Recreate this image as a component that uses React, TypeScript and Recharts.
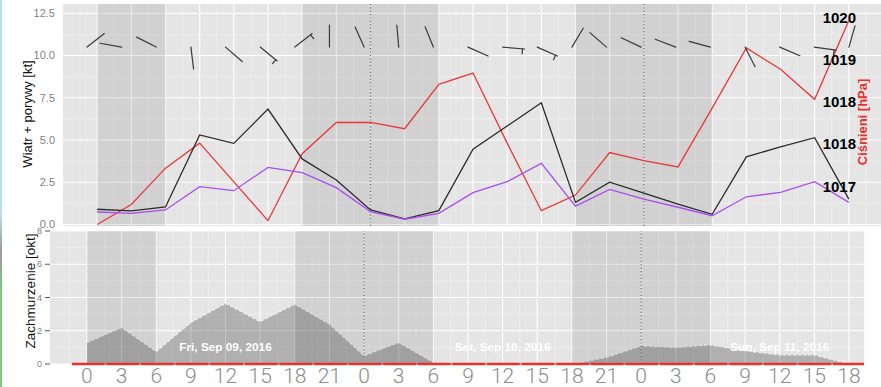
import { ComposedChart, Line, Area, Scatter, XAxis, YAxis, CartesianGrid, ReferenceArea, ReferenceLine } from 'recharts'

// godziny prognozy (co 3h, od pt 00:00)
const hours = [0, 3, 6, 9, 12, 15, 18, 21, 24, 27, 30, 33, 36, 39, 42, 45, 48, 51, 54, 57, 60, 63, 66]

// wiatr [kt]
const gust = [0.9, 0.8, 1.04, 5.3, 4.8, 6.83, 3.88, 2.63, 0.86, 0.33, 0.82, 4.45, 5.83, 7.2, 1.31, 2.5, 1.85, 1.21, 0.6, 4.0, 4.6, 5.14, 1.5]
const wind = [0.74, 0.66, 0.86, 2.24, 2.0, 3.38, 3.07, 2.18, 0.76, 0.31, 0.66, 1.88, 2.53, 3.62, 1.09, 2.08, 1.5, 1.02, 0.52, 1.64, 1.9, 2.53, 1.31]
// kierunek kreski (stopnie, 0 = w gore ekranu)
const windDir = [52, 280, 297, 173, 131, 129, 52, 0, 336, 355, 338, 114, 95, 114, 31, 311, 295, 291, 285, 153, 113, 98, 16]
// cisnienie [hPa]
const pressure = [1016.35, 1016.67, 1017.25, 1017.65, 1017.03, 1016.41, 1017.48, 1017.98, 1017.98, 1017.88, 1018.59, 1018.77, 1017.65, 1016.57, 1016.82, 1017.5, 1017.37, 1017.27, 1018.21, 1019.17, 1018.83, 1018.35, 1019.61]
// zachmurzenie [okt]
const cloud = [1.3, 2.2, 0.75, 2.5, 3.65, 2.55, 3.6, 2.4, 0.5, 1.3, 0.1, 0, 0, 0, 0, 0.4, 1.1, 1.0, 1.15, 0.8, 0.55, 0.55, 0]

const nightStart = [0, 18, 42]
const nightEnd = [6, 30, 54]
const midnights = [24, 48]
const dayHours = [12, 36, 60]
const dayNames = ['Fri, Sep 09, 2016', 'Sat, Sep 10, 2016', 'Sun, Sep 11, 2016']

const windTicks = [0, 2.5, 5, 7.5, 10, 12.5]
const windMinor = [1.25, 3.75, 6.25, 8.75, 11.25]
const cloudTicks = [0, 2, 4, 6, 8]
const cloudMinor = [1, 3, 5, 7]
const minorX = [-1.5, ...hours.map((h) => h + 1.5)]

// skala cisnienia nalozona na siatke wiatru
const P0 = 1016.35
const PK = 0.27
const WIND_DOMAIN = [-0.09, 13.05]
const pTicks = windTicks.slice(1).map((v) => P0 + PK * v)
const BARB_LEVEL = 10.5

const PANEL = '#e5e5e5'
const FONT = '"Liberation Sans", Arial, sans-serif'
const TOP_W = 900
const P_AXIS_W = 17
const P_LABEL_X = TOP_W - P_AXIS_W - 27

const topData = hours.map((h, i) => ({ h, gust: gust[i], wind: wind[i], pressure: pressure[i] }))
const barbData = hours.map((h, i) => ({ h, v: BARB_LEVEL, dir: windDir[i], half: wind[i] >= 2.5 }))
const bottomData = hours.map((h, i) => ({ h, cloud: cloud[i] }))
const labelData = dayHours.map((h, i) => ({ h, y: 1, text: dayNames[i] }))

const Barb = (props: any) => {
  const { cx, cy, payload } = props
  if (cx == null || cy == null) return null
  const a = (payload.dir * Math.PI) / 180
  const ux = Math.sin(a)
  const uy = -Math.cos(a)
  const L = 22
  const ex = cx + ux * L
  const ey = cy + uy * L
  const tx = ex - ux * 2
  const ty = ey - uy * 2
  return (
    <g stroke="#3a3a3a" strokeWidth={1.2} strokeLinecap="round">
      <line x1={cx} y1={cy} x2={ex} y2={ey} />
      {payload.half && <line x1={tx} y1={ty} x2={tx - uy * 5} y2={ty + ux * 5} />}
    </g>
  )
}

const DayLabel = (props: any) => {
  const { cx, cy, payload } = props
  return (
    <text x={cx} y={cy} textAnchor="middle" dominantBaseline="central" fill="#ffffff" fontSize={11.8} fontWeight="bold" fontFamily={FONT}>
      {payload.text}
    </text>
  )
}

const PressureTick = (props: any) => {
  const { y, payload } = props
  return (
    <text x={P_LABEL_X} y={y + 4} dy="0.355em" textAnchor="end" fill="#000" fontSize={15} fontWeight="bold" fontFamily={FONT}>
      {Math.round(payload.value)}
    </text>
  )
}

export default function App() {
  return (
    <div style={{ position: 'absolute', left: 0, top: 0, width: 881, height: 387, overflow: 'hidden', background: '#fff' }}>
      <div style={{ position: 'absolute', left: 0, top: 0 }}>
        <ComposedChart width={TOP_W} height={387} data={topData} margin={{ top: 4, right: 0, bottom: 161, left: 0 }}>
          <CartesianGrid fill={PANEL} stroke="#f2f2f2" strokeWidth={0.6} verticalValues={minorX} horizontalValues={windMinor} />
          <CartesianGrid stroke="#ffffff" strokeWidth={1.1} verticalValues={hours} horizontalValues={windTicks} />
          <XAxis dataKey="h" type="number" domain={[-3, 69]} allowDataOverflow hide />
          <XAxis xAxisId="b" dataKey="h" type="number" domain={[-2.08, 68.95]} allowDataOverflow hide />
          <YAxis
            type="number" domain={WIND_DOMAIN} allowDataOverflow ticks={windTicks} width={63}
            tickFormatter={(v) => v.toFixed(1)} tick={{ fontSize: 11, fill: '#7f7f7f', fontFamily: FONT }}
            tickLine={false} axisLine={false} tickSize={4} tickMargin={4}
          />
          <YAxis
            yAxisId="p" orientation="right" type="number" width={P_AXIS_W}
            domain={[P0 + PK * WIND_DOMAIN[0], P0 + PK * WIND_DOMAIN[1]]} allowDataOverflow ticks={pTicks} interval={0}
            tick={PressureTick} tickLine={false} axisLine={false}
          />
          {nightStart.map((s, i) => (
            <ReferenceArea key={s} x1={s} x2={nightEnd[i]} fill="#000" fillOpacity={0.085} stroke="none" />
          ))}
          {midnights.map((m) => (
            <ReferenceLine key={m} x={m} stroke="#666" strokeWidth={1.2} strokeDasharray="1.2 2.2" />
          ))}
          <Line dataKey="pressure" yAxisId="p" stroke="#e8393a" strokeWidth={1.3} dot={false} isAnimationActive={false} />
          <Line dataKey="gust" stroke="#2b2b2b" strokeWidth={1.3} dot={false} isAnimationActive={false} />
          <Line dataKey="wind" stroke="#a64ff0" strokeWidth={1.3} dot={false} isAnimationActive={false} />
          <Scatter data={barbData} xAxisId="b" dataKey="v" shape={Barb} isAnimationActive={false} />
        </ComposedChart>
      </div>

      <div style={{ position: 'absolute', left: 0, top: 0 }}>
        <ComposedChart width={900} height={387} data={bottomData} margin={{ top: 231, right: 36, bottom: 0, left: 0 }}>
          <CartesianGrid fill={PANEL} stroke="#f2f2f2" strokeWidth={0.6} verticalValues={minorX} horizontalValues={cloudMinor} />
          <CartesianGrid stroke="#ffffff" strokeWidth={1.1} verticalValues={hours} horizontalValues={cloudTicks} />
          <XAxis
            dataKey="h" type="number" domain={[-3.2, 67.3]} allowDataOverflow ticks={hours} interval={0} height={23}
            tickFormatter={(h) => `${h % 24}`} tick={{ fontSize: 21, fill: '#8c8c8c', fontFamily: 'Roboto, sans-serif', fontWeight: 300 }}
            tickLine={false} axisLine={false} tickSize={0} tickMargin={4}
          />
          <YAxis
            type="number" domain={[0, 8]} ticks={cloudTicks} width={50}
            tick={{ fontSize: 9, fill: '#7f7f7f', fontFamily: FONT }}
            tickLine={{ stroke: '#555' }} axisLine={false} tickSize={5} tickMargin={3}
          />
          <Area dataKey="cloud" type="linear" fill="#000" fillOpacity={0.23} stroke="#f4f4f4" strokeWidth={1.1} strokeDasharray="3 2" isAnimationActive={false} />
          {nightStart.map((s, i) => (
            <ReferenceArea key={s} x1={s} x2={nightEnd[i]} fill="#000" fillOpacity={0.085} stroke="none" />
          ))}
          {midnights.map((m) => (
            <ReferenceLine key={m} x={m} stroke="#666" strokeWidth={1.2} strokeDasharray="1.2 2.2" />
          ))}
          <ReferenceLine segment={[{ x: -1.3, y: 0 }, { x: 67.3, y: 0 }]} stroke="#b82020" strokeWidth={1} />
          <ReferenceLine segment={[{ x: -1.3, y: 0 }, { x: 67.3, y: 0 }]} stroke="#e8312f" strokeWidth={2.6} strokeDasharray="32.5 2.1" />
          <Scatter data={labelData} dataKey="y" shape={DayLabel} isAnimationActive={false} />
        </ComposedChart>
      </div>

      <svg width={881} height={387} style={{ position: 'absolute', left: 0, top: 0, pointerEvents: 'none' }}>
        <text transform="translate(27,114) rotate(-90)" textAnchor="middle" dominantBaseline="central" fontSize={13} fill="#111" fontFamily={FONT}>
          Wiatr + porywy [kt]
        </text>
        <text transform="translate(30,291) rotate(-90)" textAnchor="middle" dominantBaseline="central" fontSize={13.5} fill="#111" fontFamily={FONT}>
          Zachmurzenie [okt]
        </text>
        <text transform="translate(862,122) rotate(-90)" textAnchor="middle" dominantBaseline="central" fontSize={13} fontWeight="bold" fill="#e8312f" fontFamily={FONT}>
          Ciśnieni [hPa]
        </text>
      </svg>
      <div style={{ position: 'absolute', left: 0, top: 0, width: 2, height: 387, background: 'linear-gradient(#b8e0f5 0%, #b8e0f5 55%, #9a9a9a 65%, #7dc97d 75%, #7dc97d 100%)' }} />
    </div>
  )
}
